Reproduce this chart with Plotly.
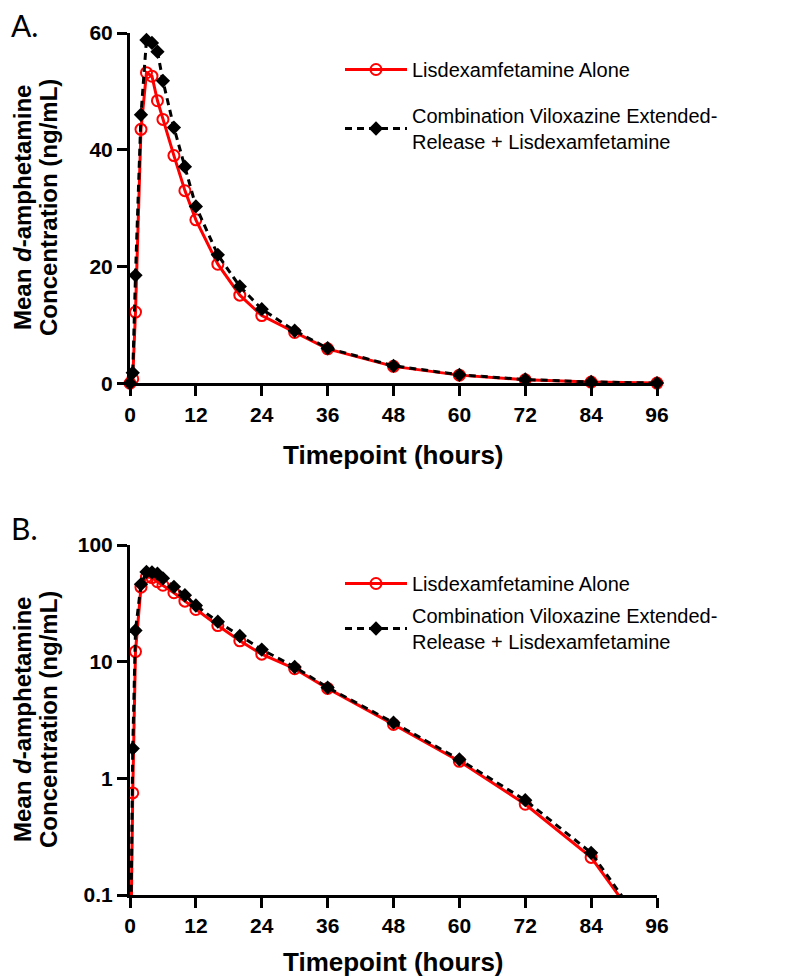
import plotly.graph_objects as go

# Data
time_h = [0, 0.5, 1, 2, 3, 4, 5, 6, 8, 10, 12, 16, 20, 24, 30, 36, 48, 60, 72, 84, 96]
lisdex_alone = [0.01, 0.75, 12.2, 43.5, 53.2, 52.6, 48.4, 45.2, 39.0, 33.0, 28.0, 20.4, 15.1,
                11.6, 8.7, 5.9, 2.9, 1.4, 0.6, 0.21, 0.035]
combination = [0.01, 1.8, 18.5, 46.0, 58.8, 58.3, 56.8, 51.8, 43.8, 37.1, 30.3, 22.0, 16.6,
               12.7, 9.0, 6.0, 3.0, 1.45, 0.65, 0.23, 0.037]
name_alone = "Lisdexamfetamine Alone"
name_combo = "Combination Viloxazine Extended-<br>Release + Lisdexamfetamine"
x_ticks = [0, 12, 24, 36, 48, 60, 72, 84, 96]
y_ticks_lin = [0, 20, 40, 60]
y_ticks_log = [0.1, 1, 10, 100]
y_ticks_log_text = ["0.1", "1", "10", "100"]
ytitle_lines = ["Mean <i>d</i>-amphetamine", "Concentration (ng/mL)"]
xtitle = "Timepoint (hours)"

RED = "#FF0000"
FONT = "Liberation Sans, Arial, sans-serif"

# the page body has an 8px margin: the figure is drawn 8px lower/right
OFF = 8
W, H = 800 - OFF, 980 - OFF

fig = go.Figure()

for xa, ya, leg, clip in [("x", "y", "legend", False), ("x2", "y2", "legend2", True)]:
    fig.add_trace(go.Scatter(
        x=time_h, y=lisdex_alone, name=name_alone, mode="lines+markers",
        xaxis=xa, yaxis=ya, legend=leg, legendgroup="a" + leg, cliponaxis=clip,
        line=dict(color=RED, width=3),
        marker=dict(symbol="circle-open", size=11, color=RED, line=dict(width=2, color=RED)),
    ))
    fig.add_trace(go.Scatter(
        x=time_h, y=combination, name=name_combo, mode="lines+markers",
        xaxis=xa, yaxis=ya, legend=leg, legendgroup="b" + leg, cliponaxis=clip,
        line=dict(color="black", width=3, dash="7px,5px"),
        marker=dict(symbol="diamond", size=11, color="black"),
    ))

tickfont = dict(family=FONT, size=21, color="black", weight="bold")
common_x = dict(range=[0, 96], tickvals=x_ticks, ticks="outside", ticklen=10, tickwidth=3,
                tickcolor="black", showline=True, linewidth=3, linecolor="black",
                showgrid=False, zeroline=False, tickfont=tickfont)
common_y = dict(ticks="outside", ticklen=10, tickwidth=3, tickcolor="black", showline=True,
                linewidth=3, linecolor="black", showgrid=False, zeroline=False, tickfont=tickfont)

top_dom = [(895 - 383.3) / 862, 1.0]
bot_dom = [0.0, (895 - 545) / 862]

legfont = dict(family=FONT, size=20, color="black")
fig.update_layout(
    width=W, height=H,
    margin=dict(l=130 - OFF, r=W - (657 - OFF), t=33 - OFF, b=H - (895 - OFF)),
    paper_bgcolor="white", plot_bgcolor="white",
    showlegend=True,
    xaxis=dict(domain=[0, 1], anchor="y", **common_x),
    yaxis=dict(domain=top_dom, anchor="x", range=[0, 60], tickvals=y_ticks_lin, **common_y),
    xaxis2=dict(domain=[0, 1], anchor="y2", **common_x),
    yaxis2=dict(domain=bot_dom, anchor="x2", type="log", range=[-1, 2], tickvals=y_ticks_log,
                ticktext=y_ticks_log_text, **common_y),
    legend=dict(x=(340 - 130) / 527, y=(895 - 50) / 862, xanchor="left", yanchor="top",
                xref="paper", yref="paper", itemwidth=62, tracegroupgap=17,
                traceorder="grouped", bgcolor="rgba(0,0,0,0)", font=legfont),
    legend2=dict(x=(340 - 130) / 527, y=(895 - 564) / 862, xanchor="left", yanchor="top",
                 xref="paper", yref="paper", itemwidth=62, tracegroupgap=3,
                 traceorder="grouped", bgcolor="rgba(0,0,0,0)", font=legfont),
)

ytitle_font = dict(family=FONT, size=24, color="black", weight="bold")
xtitle_font = dict(family=FONT, size=26, color="black", weight="bold")
ann = []
for yc in [(33 + 383) / 2, (545 + 895) / 2]:
    for xc, line in zip([22, 48], ytitle_lines):
        ann.append(dict(text=line, x=xc, y=yc, textangle=-90, font=ytitle_font,
                        xanchor="center"))
for yc in [455, 962]:
    ann.append(dict(text=xtitle, x=393, y=yc, font=xtitle_font, xanchor="center"))
ann.append(dict(text="A.", x=9, y=25, xanchor="left",
                font=dict(family="Lato, sans-serif", size=30, color="black")))
ann.append(dict(text="B.", x=9, y=528, xanchor="left",
                font=dict(family="Lato, sans-serif", size=30, color="black")))

# convert reference-pixel coordinates to paper coordinates
for a in ann:
    a["x"] = (a["x"] - 130) / 527
    a["y"] = (895 - a["y"]) / 862
    a["xref"] = "paper"
    a["yref"] = "paper"
    a["yanchor"] = "middle"
    a["showarrow"] = False
fig.update_layout(annotations=ann)

fig.write_html("out.html")
